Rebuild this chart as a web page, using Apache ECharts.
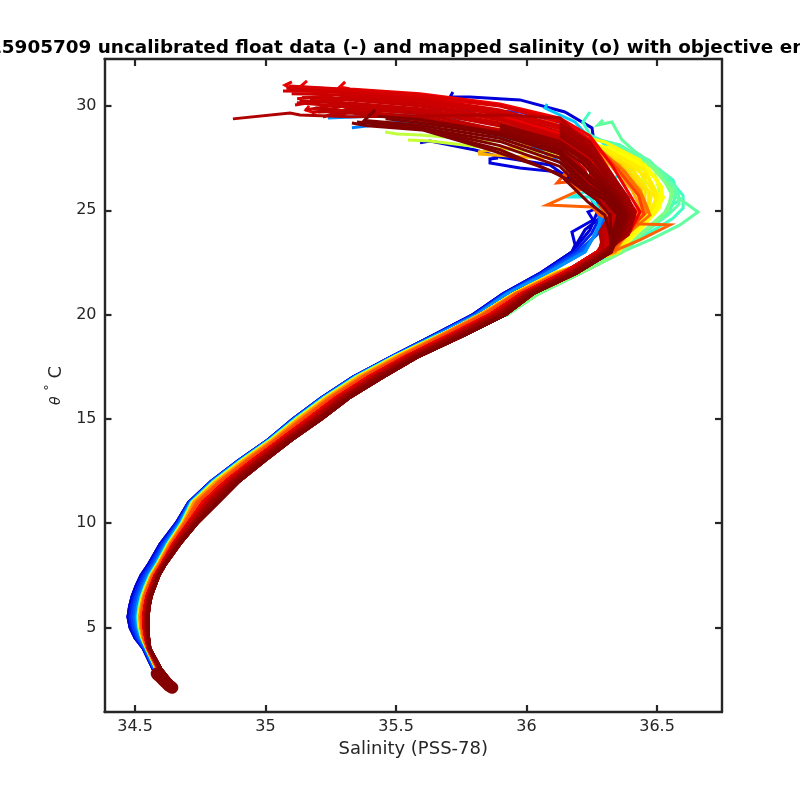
<!DOCTYPE html>
<html><head><meta charset="utf-8">
<style>html,body{margin:0;padding:0;background:#fff}#c{width:800px;height:800px}</style>
<script src="https://cdn.jsdelivr.net/npm/echarts@6/dist/echarts.min.js"></script>
</head><body><div id="c"></div>
<script>
const xTicks=[34.5,35,35.5,36,36.5];
const yTicks=[5,10,15,20,25,30];
const deepTheta=[2.1,3,4,4.5,5,5.5,6,6.5,7,7.5,8,9,10,11,12,13,14,15,16,17,18,19,20,21,22,23];
const dNavy=[34.619,34.569,34.531,34.500,34.481,34.473,34.479,34.489,34.504,34.523,34.550,34.596,34.657,34.705,34.791,34.895,35.010,35.105,35.213,35.335,35.485,35.642,35.795,35.910,36.055,36.174];
const dBlue0=[34.621,34.571,34.533,34.505,34.488,34.480,34.486,34.496,34.511,34.530,34.556,34.602,34.660,34.707,34.792,34.896,35.011,35.106,35.214,35.336,35.486,35.645,35.799,35.914,36.061,36.185];
const dBlue=[34.624,34.573,34.536,34.510,34.495,34.488,34.494,34.504,34.519,34.537,34.563,34.608,34.664,34.709,34.794,34.898,35.013,35.108,35.216,35.338,35.488,35.648,35.803,35.918,36.067,36.197];
const dBlue1=[34.627,34.575,34.538,34.515,34.502,34.496,34.501,34.511,34.526,34.544,34.570,34.613,34.668,34.711,34.795,34.899,35.014,35.110,35.217,35.340,35.489,35.651,35.807,35.922,36.075,36.21];
const dAzure=[34.630,34.578,34.541,34.521,34.509,34.504,34.509,34.518,34.533,34.551,34.576,34.619,34.672,34.713,34.797,34.901,35.015,35.112,35.219,35.342,35.491,35.654,35.811,35.926,36.082,36.224];
const dCyan=[34.633,34.581,34.543,34.525,34.514,34.510,34.515,34.524,34.539,34.556,34.581,34.624,34.677,34.716,34.801,34.904,35.018,35.115,35.223,35.345,35.494,35.660,35.905,35.950,36.197,36.350];
const dMint=[34.635,34.582,34.545,34.527,34.517,34.513,34.518,34.527,34.542,34.559,34.584,34.627,34.680,34.719,34.804,34.907,35.021,35.118,35.226,35.349,35.497,35.664,35.925,36.045,36.209,36.366];
const dYellow=[34.636,34.583,34.546,34.529,34.520,34.516,34.521,34.530,34.545,34.562,34.586,34.630,34.683,34.722,34.808,34.911,35.025,35.123,35.230,35.353,35.501,35.667,35.824,35.950,36.109,36.350];
const dAmber=[34.639,34.585,34.547,34.531,34.522,34.519,34.524,34.533,34.548,34.564,34.589,34.633,34.686,34.727,34.815,34.918,35.030,35.129,35.237,35.360,35.508,35.670,35.826,35.955,36.120,36.339];
const dOrange=[34.642,34.588,34.548,34.534,34.527,34.524,34.529,34.537,34.552,34.569,34.593,34.638,34.691,34.737,34.825,34.928,35.039,35.141,35.247,35.372,35.518,35.680,35.835,35.960,36.128,36.327];
const dFlame=[34.644,34.589,34.550,34.537,34.531,34.528,34.533,34.542,34.557,34.573,34.597,34.642,34.698,34.749,34.836,34.938,35.048,35.152,35.258,35.383,35.528,35.692,35.848,35.970,36.136,36.281];
const dRed=[34.646,34.591,34.551,34.541,34.535,34.533,34.538,34.546,34.561,34.577,34.601,34.647,34.704,34.761,34.847,34.949,35.057,35.163,35.269,35.395,35.539,35.704,35.861,35.980,36.143,36.270];
const dCrim=[34.649,34.593,34.553,34.543,34.538,34.537,34.541,34.550,34.565,34.580,34.604,34.652,34.710,34.773,34.857,34.959,35.066,35.174,35.279,35.406,35.549,35.715,35.873,35.990,36.155,36.278];
const dMaroon=[34.651,34.595,34.554,34.546,34.542,34.541,34.545,34.553,34.568,34.584,34.607,34.658,34.720,34.787,34.870,34.971,35.077,35.187,35.292,35.420,35.561,35.729,35.888,36.000,36.167,36.293];
const dDark=[34.654,34.598,34.555,34.549,34.546,34.545,34.550,34.558,34.573,34.588,34.611,34.666,34.730,34.803,34.884,34.985,35.089,35.202,35.306,35.435,35.575,35.745,35.905,36.010,36.178,36.308];
const dDeepest=[34.657,34.600,34.557,34.552,34.550,34.550,34.554,34.562,34.577,34.592,34.615,34.672,34.738,34.818,34.898,34.998,35.101,35.216,35.320,35.450,35.588,35.760,35.921,36.025,36.193,36.324];

const u00=[[36.243,24.06],[36.274,25.01],[36.281,25.97],[36.27,27.17],[36.251,28.95],[36.147,29.71],[35.975,30.29],[35.783,30.43],[35.707,30.43],[35.718,30.67]];
const u01=[[36.186,23.34],[36.174,23.96],[36.255,24.53],[36.236,24.92],[36.30,25.25],[36.243,25.97],[36.178,26.60],[36.117,26.84],[35.975,27.03],[35.860,27.27],[35.860,27.46],[35.891,27.51]];
const u02=[[36.224,24.06],[36.281,24.63],[36.243,25.73],[36.155,26.60],[36.09,27.17],[35.898,27.55],[35.803,27.89],[35.630,28.32],[35.592,28.23]];
const u03=[[36.281,23.96],[36.339,25.25],[36.281,27.41],[36.167,29.09],[35.975,29.71],[35.707,29.81],[35.439,29.81]];
const u04=[[36.281,24.30],[36.27,25.49],[36.205,26.69],[36.052,27.89],[35.783,28.95],[35.515,29.23],[35.331,28.95]];
const u05=[[36.262,23.82],[36.30,25.01],[36.243,26.93],[36.128,28.61],[35.822,29.33],[35.515,29.57],[35.239,29.42]];
const u06=[[36.30,24.30],[36.327,25.49],[36.281,27.89],[36.186,29.23],[36.071,29.90],[36.079,30.10]];
const uShort0=[[36.25,23.9],[36.29,24.9]];
const uShort1=[[36.27,23.9],[36.31,24.9]];
const g04=[[36.358,23.82],[36.281,25.01],[36.243,25.64],[36.174,25.64],[36.262,26.07],[36.396,26.93],[36.281,28.37],[36.128,28.95]];
const g02=[[36.435,23.82],[36.53,24.77],[36.557,25.25],[36.588,25.49],[36.561,26.45],[36.435,27.65],[36.32,28.13],[36.243,28.61],[36.216,29.23],[36.243,29.71]];
const g03=[[36.454,23.96],[36.55,25.01],[36.573,25.73],[36.511,26.93],[36.358,28.13],[36.205,28.61],[36.052,29.0],[35.898,29.23]];
const g08=[[36.44,23.7],[36.56,24.6],[36.60,25.1],[36.60,25.7],[36.54,26.6],[36.45,27.3],[36.36,27.9]];
const g01=[[36.473,23.58],[36.588,24.30],[36.657,24.92],[36.577,25.64],[36.55,26.21],[36.542,26.60],[36.408,27.89],[36.366,28.37],[36.327,29.23],[36.274,29.09],[36.293,29.33]];
const g07=[[36.44,23.8],[36.545,24.8],[36.585,25.3],[36.57,26.1],[36.47,27.4],[36.33,28.2]];
const g06=[[36.43,23.8],[36.53,24.9],[36.56,25.7],[36.50,27.0],[36.40,27.6],[36.25,28.1]];
const g05=[[36.435,23.82],[36.542,25.01],[36.557,25.97],[36.473,27.17],[36.358,27.89],[36.167,28.27],[35.975,28.37]];
const l01=[[36.435,24.30],[36.519,25.49],[36.492,26.69],[36.358,27.65],[36.128,28.13],[35.822,28.37],[35.592,28.61],[35.504,28.66],[35.458,28.75]];
const l02=[[36.416,24.30],[36.473,25.49],[36.435,26.93],[36.281,27.65],[36.052,27.79],[35.822,28.03],[35.63,28.32],[35.546,28.37]];
const y07=[[36.44,24.1],[36.51,25.1],[36.52,25.9],[36.47,27.0],[36.36,27.7],[36.2,28.2],[35.95,28.6]];
const y11=[[36.42,24.1],[36.50,25.0],[36.525,25.6],[36.50,26.5],[36.40,27.4],[36.25,28.0]];
const y01=[[36.435,24.15],[36.504,25.25],[36.519,26.12],[36.454,27.17],[36.32,27.99],[36.167,28.37],[35.822,28.80]];
const y06=[[36.416,24.06],[36.496,24.92],[36.504,25.73],[36.435,27.41],[36.30,28.27],[36.128,28.75]];
const y12=[[36.40,24.1],[36.475,25.0],[36.495,25.5],[36.47,26.5],[36.36,27.5],[36.2,28.2]];
const y08=[[36.41,24.1],[36.485,25.1],[36.50,25.8],[36.445,27.0],[36.31,27.9],[36.1,28.5]];
const y09=[[36.385,24.1],[36.465,25.1],[36.47,25.9],[36.40,27.05],[36.27,27.95],[36.0,28.5]];
const y02=[[36.396,24.15],[36.473,25.25],[36.481,25.97],[36.416,27.17],[36.281,27.99],[36.052,28.61]];
const y03=[[36.377,24.15],[36.454,25.25],[36.454,25.97],[36.377,27.17],[36.262,27.89],[35.975,28.37]];
const y10=[[36.37,24.1],[36.445,25.1],[36.44,26.0],[36.37,27.1],[36.25,28.0],[36.05,28.3]];
const y04=[[36.377,24.15],[36.435,25.25],[36.427,25.97],[36.358,27.17],[36.243,27.89],[36.013,28.13],[35.814,27.79]];
const y05=[[36.358,24.15],[36.442,25.01],[36.404,25.97],[36.32,27.17],[36.224,27.79],[36.052,27.51],[35.814,27.70]];
const o05=[[36.37,24.05],[36.45,25.0],[36.42,26.0],[36.34,27.1],[36.24,28.0],[36.0,28.6]];
const o01=[[36.388,24.06],[36.465,25.01],[36.435,25.97],[36.351,27.17],[36.243,28.13],[35.937,28.85],[35.592,29.23]];
const o06=[[36.38,24.0],[36.46,24.9],[36.435,25.85],[36.36,27.0],[36.25,28.1],[35.98,28.9]];
const o03=[[36.396,23.96],[36.473,24.77],[36.442,25.73],[36.377,26.84],[36.27,28.03],[36.052,28.95],[35.63,29.71]];
const o02=[[36.435,23.58],[36.55,24.30],[36.435,24.34],[36.339,24.44],[36.281,24.77],[36.251,25.16],[36.078,25.25],[36.205,25.97],[36.147,26.55],[36.159,26.93],[36.243,27.89],[36.052,28.61],[35.783,28.85]];
const o04=[[36.377,23.82],[36.435,24.63],[36.32,24.44],[36.281,25.25],[36.327,25.49],[36.243,26.45],[36.117,26.31],[36.159,26.93],[36.243,27.17],[36.224,28.37],[36.013,29.23],[35.707,29.71]];
const o07=[[36.38,23.9],[36.45,24.8],[36.43,25.7],[36.35,26.95],[36.25,28.3],[36.1,29.2],[35.8,29.9]];
const r01=[[36.396,23.96],[36.435,24.92],[36.327,27.17],[36.243,28.56],[36.128,29.42],[35.898,30.10],[35.592,30.58],[35.324,30.81],[35.285,30.91],[35.305,31.15]];
const r02=[[36.377,23.96],[36.42,24.92],[36.304,27.17],[36.243,28.37],[36.128,29.33],[35.898,30.05],[35.592,30.48],[35.324,30.77],[35.132,30.91],[35.159,31.2]];
const r03=[[36.366,23.96],[36.404,24.92],[36.297,27.03],[36.243,28.18],[36.128,29.23],[35.898,30.0],[35.592,30.43],[35.324,30.72],[35.094,30.86],[35.075,31.0],[35.101,31.15]];
const r25=[[36.37,23.96],[36.41,24.92],[36.30,27.1],[36.243,28.28],[36.128,29.28],[35.898,30.02],[35.592,30.52],[35.324,30.79],[35.09,30.95]];
const r04=[[36.358,23.96],[36.396,24.92],[36.289,27.03],[36.243,27.99],[36.128,29.04],[35.898,29.81],[35.592,30.38],[35.324,30.67],[35.067,30.72]];
const r26=[[36.355,23.96],[36.392,24.92],[36.285,26.98],[36.243,27.95],[36.128,28.97],[35.898,29.76],[35.592,30.33],[35.324,30.62],[35.08,30.85]];
const r05=[[36.35,23.96],[36.389,24.92],[36.281,26.93],[36.243,27.89],[36.128,28.9],[35.898,29.71],[35.592,30.29],[35.324,30.58],[35.121,30.34]];
const r06=[[36.339,23.96],[36.381,24.92],[36.274,26.84],[36.243,27.7],[36.128,28.75],[35.898,29.62],[35.592,30.19],[35.324,30.48],[35.113,30.05]];
const r07=[[36.327,23.96],[36.373,24.92],[36.266,26.69],[36.243,27.6],[36.128,28.66],[35.898,29.52],[35.592,29.71],[35.324,29.81],[35.178,29.71],[35.155,29.81],[35.167,30.0]];
const r27=[[36.335,23.96],[36.375,24.92],[36.27,26.75],[36.24,27.5],[36.128,28.7],[35.898,29.57],[35.592,30.24],[35.324,30.53],[35.10,30.58]];
const r08=[[36.32,23.96],[36.366,24.92],[36.258,26.55],[36.243,27.41],[36.128,28.56],[35.898,29.42],[35.592,30.1],[35.324,30.38],[35.17,30.29]];
const r28=[[36.315,23.96],[36.36,24.92],[36.255,26.5],[36.235,27.35],[36.128,28.47],[35.898,29.38],[35.592,30.05],[35.324,30.33],[35.14,30.4]];
const r09=[[36.312,23.96],[36.358,24.92],[36.251,26.45],[36.243,27.27],[36.128,28.37],[35.898,29.33],[35.592,30.0],[35.324,30.29],[35.132,30.14]];
const r10=[[36.304,23.96],[36.351,24.92],[36.247,26.36],[36.243,27.12],[36.128,28.27],[35.898,29.18],[35.592,29.86],[35.324,30.14],[35.151,29.81]];
const r29=[[36.30,23.96],[36.345,24.92],[36.24,26.3],[36.21,26.9],[36.128,28.18],[35.898,29.1],[35.592,29.81],[35.324,30.1],[35.13,30.25]];
const r11=[[36.297,23.96],[36.343,24.92],[36.243,26.26],[36.224,26.93],[36.128,28.08],[35.898,29.04],[35.592,29.76],[35.324,30.05],[35.178,29.67]];
const r30=[[36.29,23.96],[36.335,24.92],[36.23,26.15],[36.195,26.75],[36.128,27.92],[35.898,28.8],[35.592,29.67],[35.324,29.95],[35.12,30.15]];
const r13=[[36.293,23.96],[36.339,24.92],[36.235,26.21],[36.2,26.84],[36.128,27.99],[35.898,28.85],[35.592,29.62],[35.324,29.9],[35.22,29.47]];
const r14=[[36.285,23.96],[36.331,24.92],[36.228,26.07],[36.19,26.69],[36.128,27.85],[35.898,28.75],[35.592,29.48],[35.324,29.76],[35.201,29.71]];
const r31=[[36.283,23.96],[36.33,24.92],[36.226,26.0],[36.185,26.6],[36.128,27.78],[35.898,28.68],[35.592,29.4],[35.324,29.7],[35.19,29.9]];
const r15=[[36.281,23.96],[36.327,24.92],[36.224,25.97],[36.18,26.55],[36.128,27.7],[35.898,28.61],[35.592,29.33],[35.324,29.66],[35.247,29.57]];
const r12=[[36.377,23.96],[36.416,24.92],[36.30,27.17],[36.243,28.0],[36.128,29.42],[35.898,29.57],[35.592,29.52],[35.324,29.48],[35.132,29.57],[35.094,29.66],[34.875,29.38]];
const r16=[[36.39,23.82],[36.415,24.77],[36.39,25.59],[36.30,27.17],[36.243,28.27],[36.128,29.14]];
const r32=[[36.385,23.85],[36.41,24.8],[36.385,25.6],[36.295,27.17],[36.243,28.08],[36.128,29.0]];
const r17=[[36.38,23.82],[36.405,24.77],[36.378,25.59],[36.289,27.17],[36.243,27.89],[36.128,28.85]];
const r33=[[36.375,23.85],[36.40,24.77],[36.372,25.6],[36.285,27.1],[36.243,27.75],[36.128,28.7]];
const r18=[[36.37,23.82],[36.395,24.77],[36.365,25.59],[36.281,27.03],[36.243,27.6],[36.128,28.56]];
const r19=[[36.365,23.82],[36.39,24.77],[36.358,25.59],[36.27,26.93],[36.235,27.4],[36.128,28.3],[35.898,29.1]];
const r34=[[36.36,23.82],[36.385,24.77],[36.35,25.59],[36.266,26.75],[36.23,27.3],[36.128,28.15],[35.898,28.98]];
const r20=[[36.355,23.82],[36.38,24.77],[36.345,25.59],[36.262,26.6],[36.22,27.2],[36.128,28.0],[35.898,28.85]];
const r35=[[36.35,23.82],[36.375,24.77],[36.34,25.59],[36.255,26.45],[36.128,27.85],[35.898,28.72],[35.592,29.35],[35.43,29.5]];
const r21=[[36.34,23.82],[36.365,24.77],[36.332,25.59],[36.25,26.3],[36.128,27.7],[35.898,28.6],[35.592,29.2],[35.46,29.38]];
const r36=[[36.335,23.82],[36.36,24.77],[36.325,25.55],[36.24,26.15],[36.128,27.5],[35.898,28.45],[35.592,29.07],[35.38,29.3]];
const r22=[[36.33,23.82],[36.355,24.77],[36.315,25.49],[36.235,26.0],[36.128,27.3],[35.898,28.3],[35.592,28.95],[35.35,29.23]];
const r37=[[36.328,23.82],[36.35,24.77],[36.30,25.49],[36.2,26.2],[36.128,27.1],[35.898,28.1],[35.592,28.93],[35.40,29.2]];
const r23=[[36.325,23.82],[36.32,24.77],[36.27,25.49],[36.17,26.4],[36.09,26.9],[35.898,27.9],[35.592,28.9],[35.42,29.2],[35.373,29.23],[35.42,29.81]];
const r24=[[36.32,23.82],[36.30,24.77],[36.235,25.4],[36.128,26.7],[36.05,27.1],[35.86,27.9],[35.6,28.85],[35.39,29.05],[35.331,29.18]];

const profiles=[
[dNavy,u00,'#0000d8'],[dNavy,u01,'#0000e0'],[dNavy,u02,'#0000d0'],[dBlue0,uShort0,'#0020f0'],[dBlue,u03,'#0040ff'],[dBlue1,uShort1,'#0060ff'],
[dAzure,u04,'#0080ff'],[dAzure,u05,'#0090ff'],[dCyan,u06,'#00c8ff'],[dCyan,g04,'#20f0e0'],
[dMint,g02,'#40ffc0'],[dMint,g08,'#40ffc0'],[dMint,g03,'#50ffb0'],[dMint,g01,'#60ffa0'],[dMint,g07,'#60ffa8'],[dMint,g06,'#70ff90'],[dMint,g05,'#80ff80'],
[dYellow,l01,'#c0ff40'],[dYellow,l02,'#c8ff30'],[dYellow,y07,'#ffff20'],[dYellow,y11,'#ffff00'],[dYellow,y01,'#ffff00'],[dYellow,y06,'#fff800'],[dYellow,y12,'#ffea00'],
[dYellow,y08,'#fff000'],[dYellow,y02,'#ffee00'],[dYellow,y09,'#ffe800'],[dYellow,y03,'#ffe000'],[dAmber,y10,'#ffd800'],[dAmber,y04,'#ffc000'],[dAmber,y05,'#ffb000'],
[dAmber,o05,'#ffa000'],[dAmber,o01,'#ff9000'],[dOrange,o06,'#ff8000'],[dOrange,o03,'#ff7000'],[dOrange,o02,'#ff6000'],[dOrange,o04,'#ff5000'],[dFlame,o07,'#ff4000'],
[dRed,r01,'#f00000'],[dRed,r02,'#f00000'],[dRed,r03,'#e80000'],[dRed,r25,'#d80000'],[dRed,r04,'#d40000'],[dRed,r26,'#d00000'],
[dRed,r05,'#d00000'],[dRed,r06,'#cc0000'],[dRed,r27,'#cc0000'],[dRed,r07,'#f00000'],[dCrim,r08,'#cc0000'],[dCrim,r28,'#c80000'],
[dCrim,r09,'#c80000'],[dCrim,r10,'#c80000'],[dCrim,r29,'#c40000'],[dCrim,r11,'#c40000'],[dMaroon,r30,'#c40000'],[dMaroon,r13,'#c00000'],
[dMaroon,r14,'#bc0000'],[dMaroon,r31,'#ba0000'],[dMaroon,r15,'#b80000'],[dMaroon,r12,'#b00000'],[dMaroon,r16,'#a80000'],[dMaroon,r32,'#a40000'],
[dDark,r17,'#a00000'],[dDark,r33,'#9c0000'],[dDark,r18,'#980000'],[dDark,r19,'#900000'],[dDark,r34,'#8c0000'],[dDeepest,r20,'#880000'],[dDeepest,r35,'#840000'],
[dDeepest,r21,'#800000'],[dDeepest,r36,'#800000'],[dDeepest,r22,'#800000'],[dDeepest,r37,'#800000'],[dDeepest,r23,'#7f0000'],[dDeepest,r24,'#7f0000']
];
const mappedDeep=[[34.584,2.78],[34.596,2.64],[34.607,2.50],[34.619,2.36],[34.63,2.22],[34.642,2.12]];
const titleText='15905709 uncalibrated float data (-) and mapped salinity (o) with objective error';
const ink='#262626';
const series=profiles.map(([d,u,c])=>({
  type:'line',xAxisIndex:0,yAxisIndex:0,showSymbol:false,silent:true,animation:false,clip:true,
  data:d.map((s,i)=>[s,deepTheta[i]]).concat(u),
  lineStyle:{color:c,width:3,join:'miter'},itemStyle:{color:c}
}));
series.push({type:'line',xAxisIndex:0,yAxisIndex:0,showSymbol:false,silent:true,animation:false,data:mappedDeep,lineStyle:{color:'#850000',width:12.5,cap:'round',join:'round'}});
const lbl={color:ink,fontFamily:'DejaVu Sans',fontSize:16};
function xa(pos,show){return{type:'value',position:pos,min:34.383,max:36.749,scale:true,
  axisLine:{show:true,onZero:false,lineStyle:{color:ink,width:2.4}},
  axisTick:{show:true,inside:true,length:7,lineStyle:{color:ink,width:2.2},customValues:xTicks},
  axisLabel:{show:show,margin:7,customValues:xTicks,...lbl},splitLine:{show:false},
  name:show?'Salinity (PSS-78)':'',nameLocation:'middle',nameGap:27,nameTextStyle:{...lbl,fontSize:18}}}
function ya(pos,show){return{type:'value',position:pos,min:0.95,max:32.25,scale:true,
  axisLine:{show:true,onZero:false,lineStyle:{color:ink,width:2.4}},
  axisTick:{show:true,inside:true,length:7,lineStyle:{color:ink,width:2.2},customValues:yTicks},
  axisLabel:{show:show,margin:8,padding:[3,0,0,0],customValues:yTicks,...lbl},splitLine:{show:false},
  name:show?'{i|θ} {s|°} C':'',nameLocation:'middle',nameGap:21,nameRotate:90,
  nameTextStyle:{...lbl,fontSize:18,rich:{i:{fontStyle:'italic',fontFamily:'DejaVu Sans',fontSize:14,color:ink},s:{fontFamily:'DejaVu Sans',fontSize:13,color:ink,verticalAlign:'top',lineHeight:26}}}}}
const chart=echarts.init(document.getElementById('c'),null,{renderer:'canvas'});
chart.setOption({animation:false,backgroundColor:'#fff',
  grid:{left:104.5,right:78,top:59,bottom:88,containLabel:false},
  xAxis:[xa('bottom',true),xa('top',false)],
  yAxis:[ya('left',true),ya('right',false)],
  graphic:[{type:'text',left:-11,top:39,style:{text:titleText,fontFamily:'DejaVu Sans',fontWeight:'bold',fontSize:18.4,fill:'#000'}}],
  series});
</script></body></html>
